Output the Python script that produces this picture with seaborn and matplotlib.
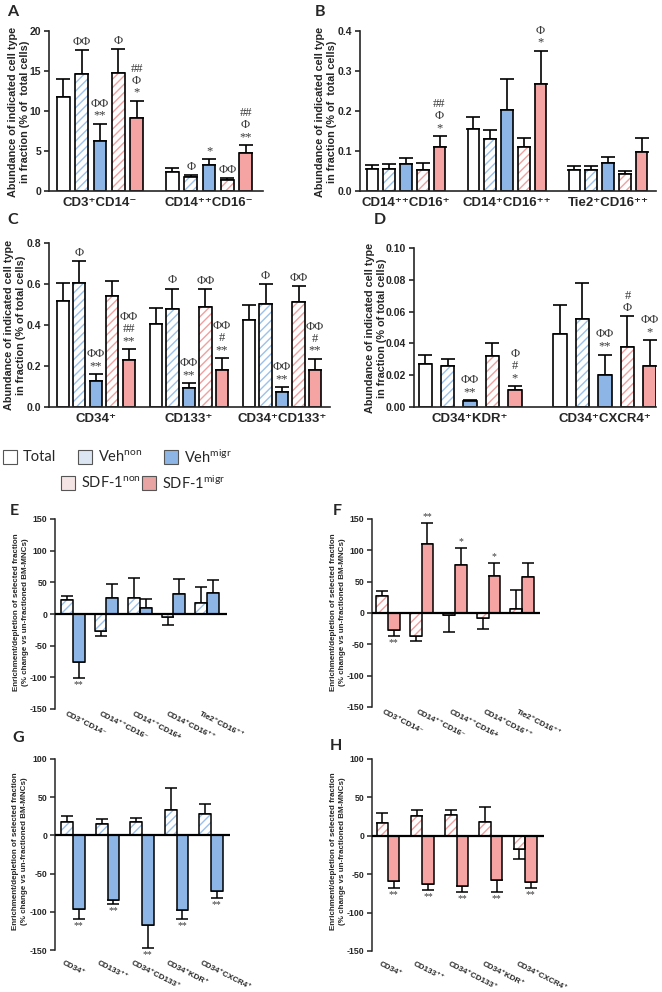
import numpy as np
import pandas as pd
import matplotlib
matplotlib.use("Agg")
import matplotlib.pyplot as plt
import seaborn as sns
from matplotlib.patches import Rectangle
from matplotlib.transforms import ScaledTranslation

# ---------------- data ----------------
groups5 = ["Total", "Veh_non", "Veh_migr", "SDF_non", "SDF_migr"]

# Panel A
a_cats = ["CD3⁺CD14⁻", "CD14⁺⁺CD16⁻"]
a_vals = {"Total": [11.8, 2.4], "Veh_non": [14.6, 1.7], "Veh_migr": [6.3, 3.2],
          "SDF_non": [14.8, 1.4], "SDF_migr": [9.1, 4.7]}
a_errs = {"Total": [2.2, 0.5], "Veh_non": [3.0, 0.3], "Veh_migr": [2.1, 0.8],
          "SDF_non": [3.0, 0.2], "SDF_migr": [2.2, 1.0]}
a_ann = {"Veh_non": ["ΦΦ", "Φ"], "Veh_migr": ["ΦΦ\n**", "*"],
         "SDF_non": ["Φ", "ΦΦ"], "SDF_migr": ["##\nΦ\n*", "##\nΦ\n**"]}

# Panel B
b_cats = ["CD14⁺⁺CD16⁺", "CD14⁺CD16⁺⁺", "Tie2⁺CD16⁺⁺"]
b_vals = {"Total": [0.055, 0.154, 0.052], "Veh_non": [0.055, 0.130, 0.052],
          "Veh_migr": [0.067, 0.203, 0.070], "SDF_non": [0.053, 0.111, 0.042],
          "SDF_migr": [0.110, 0.267, 0.098]}
b_errs = {"Total": [0.011, 0.031, 0.010], "Veh_non": [0.013, 0.022, 0.011],
          "Veh_migr": [0.016, 0.076, 0.016], "SDF_non": [0.016, 0.022, 0.008],
          "SDF_migr": [0.027, 0.084, 0.035]}
b_ann = {"SDF_migr": ["##\nΦ\n*", "Φ\n*", ""]}

# Panel C
c_cats = ["CD34⁺", "CD133⁺", "CD34⁺CD133⁺"]
c_vals = {"Total": [0.515, 0.405, 0.425], "Veh_non": [0.607, 0.478, 0.502],
          "Veh_migr": [0.125, 0.093, 0.075], "SDF_non": [0.540, 0.488, 0.510],
          "SDF_migr": [0.227, 0.180, 0.182]}
c_errs = {"Total": [0.088, 0.077, 0.073], "Veh_non": [0.106, 0.100, 0.096],
          "Veh_migr": [0.035, 0.023, 0.022], "SDF_non": [0.073, 0.088, 0.078],
          "SDF_migr": [0.056, 0.058, 0.053]}
c_ann = {"Veh_non": ["Φ", "Φ", "Φ"], "Veh_migr": ["ΦΦ\n**", "ΦΦ\n**", "ΦΦ\n**"],
         "SDF_non": ["", "ΦΦ", "ΦΦ"], "SDF_migr": ["ΦΦ\n##\n**", "ΦΦ\n#\n**", "ΦΦ\n#\n**"]}

# Panel D
d_cats = ["CD34⁺KDR⁺", "CD34⁺CXCR4⁺"]
d_vals = {"Total": [0.027, 0.046], "Veh_non": [0.026, 0.0555], "Veh_migr": [0.0035, 0.020],
          "SDF_non": [0.032, 0.038], "SDF_migr": [0.0105, 0.0255]}
d_errs = {"Total": [0.006, 0.018], "Veh_non": [0.0045, 0.0225], "Veh_migr": [0.0006, 0.013],
          "SDF_non": [0.008, 0.019], "SDF_migr": [0.0025, 0.0165]}
d_ann = {"Veh_migr": ["ΦΦ\n**", "ΦΦ\n**"], "SDF_non": ["", "#\nΦ"], "SDF_migr": ["Φ\n#\n*", "ΦΦ\n*"]}

# Panels E/F
ef_cats = ["CD3⁺CD14⁻", "CD14⁺⁺CD16⁻", "CD14⁺⁺CD16+", "CD14⁺CD16⁺⁺", "Tie2⁺CD16⁺⁺"]
e_vals = {"non": [22, -27, 25, -5, 18], "migr": [-75, 25, 9, 31, 33]}
e_errs = {"non": [6, 8, 32, 12, 24], "migr": [26, 23, 15, 24, 20]}
e_ann = {"migr": ["**", "", "", "", ""]}
f_vals = {"non": [27, -36, -3, -8, 7], "migr": [-27, 110, 76, 59, 57]}
f_errs = {"non": [8, 9, 28, 18, 30], "migr": [10, 34, 28, 20, 23]}
f_ann = {"migr": ["**", "**", "*", "*", ""]}

# Panels G/H
gh_cats = ["CD34⁺", "CD133⁺⁺", "CD34⁺CD133⁺", "CD34⁺KDR⁺", "CD34⁺CXCR4⁺"]
g_vals = {"non": [18, 15, 17, 33, 28], "migr": [-96, -85, -117, -97, -73]}
g_errs = {"non": [7, 7, 6, 29, 13], "migr": [14, 5, 30, 12, 9]}
g_ann = {"migr": ["**", "**", "**", "**", "**"]}
h_vals = {"non": [17, 26, 27, 18, -17], "migr": [-59, -63, -65, -57, -60]}
h_errs = {"non": [13, 8, 7, 20, 13], "migr": [9, 8, 8, 16, 8]}
h_ann = {"migr": ["**", "**", "**", "**", "**"]}

# ---------------- style ----------------
sns.set_theme(style="ticks")
plt.rcParams['font.family'] = ['Liberation Sans', 'DejaVu Sans']
plt.rcParams['hatch.linewidth'] = 1.0
plt.rcParams['mathtext.fontset'] = 'custom'
plt.rcParams['mathtext.rm'] = 'Lato'
plt.rcParams['mathtext.it'] = 'Lato:italic'
plt.rcParams['mathtext.bf'] = 'Lato:bold'

BLUE = "#8DB6E6"
RED = "#F5A3A3"
BLUE_H = "#9CC1EA"
RED_H = "#F0A0A0"
ANN_C = "#3a3a3a"

W, H = 662, 992
fig = plt.figure(figsize=(W / 100, H / 100), dpi=100)


def add_ax(l, t, r, b):
    return fig.add_axes([l / W, 1 - b / H, (r - l) / W, (b - t) / H])


def draw(ax, cats, hues, vals, errs, palette, hatched, width, gap, xlim, ylim,
         yticks, yfmt, anns, lw, capsize, ann_fs, neg_axis=False):
    rows = []
    for h in hues:
        for c, v in zip(cats, vals[h]):
            rows.append({"cat": c, "grp": h, "val": v})
    df = pd.DataFrame(rows)
    sns.barplot(data=df, x="cat", y="val", hue="grp", order=cats, hue_order=hues,
                palette=palette, width=width, gap=gap, errorbar=None, saturation=1,
                edgecolor="black", linewidth=lw, legend=False, ax=ax, zorder=2)
    conts = list(ax.containers)
    for h, cont in zip(hues, conts):
        for i, bar in enumerate(cont):
            v = vals[h][i]
            e = errs[h][i]
            x = bar.get_x() + bar.get_width() / 2
            if h in hatched:
                bar.set_facecolor("white")
                bar.set_edgecolor(hatched[h])
                bar.set_hatch("////")
                bar.set_linewidth(0)
                ax.add_patch(Rectangle((bar.get_x(), bar.get_y()), bar.get_width(),
                                       bar.get_height(), fill=False, edgecolor="black",
                                       linewidth=lw, zorder=2.5))
            if v >= 0:
                yerr = [[0], [e]]
                end = v + e
            else:
                yerr = [[e], [0]]
                end = v - e
            ax.errorbar([x], [v], yerr=yerr, fmt="none", ecolor="black",
                        elinewidth=lw, capsize=capsize, capthick=lw, zorder=1.5)
            txt = anns.get(h, [""] * len(cats))[i]
            if txt:
                if end >= 0:
                    ax.annotate(txt, xy=(x, end), xytext=(0, 1.5), textcoords="offset points",
                                ha="center", va="bottom", fontsize=ann_fs, color=ANN_C,
                                family=["Liberation Serif", "DejaVu Serif"], linespacing=1.0)
                else:
                    ax.annotate(txt, xy=(x, end), xytext=(0, -1.5), textcoords="offset points",
                                ha="center", va="top", fontsize=ann_fs, color=ANN_C,
                                family=["Liberation Serif", "DejaVu Serif"], linespacing=1.0)
    ax.set_xlim(*xlim)
    ax.set_ylim(*ylim)
    ax.set_yticks(yticks)
    ax.set_yticklabels([yfmt.format(t) for t in yticks])
    ax.set_xlabel("")
    ax.set_ylabel("")
    for s in ["top", "right"]:
        ax.spines[s].set_visible(False)
    ax.spines["left"].set_linewidth(lw)
    ax.spines["bottom"].set_linewidth(lw)
    ax.tick_params(axis="y", direction="out", length=3.5, width=lw, pad=2)
    ax.tick_params(axis="x", length=0)
    if neg_axis:
        ax.spines["bottom"].set_visible(False)
        ax.axhline(0, color="black", linewidth=1.6, zorder=3)


pal5 = {"Total": "white", "Veh_non": "white", "Veh_migr": BLUE, "SDF_non": "white", "SDF_migr": RED}
hat5 = {"Veh_non": BLUE_H, "SDF_non": RED_H}

# ---- A ----
axA = add_ax(49, 31, 263, 191)
draw(axA, a_cats, groups5, a_vals, a_errs, pal5, hat5, 0.84, 0.32, (-0.468, 1.495), (0, 20),
     [0, 5, 10, 15, 20], "{:g}", a_ann, 1.2, 5, 9)
# ---- B ----
axB = add_ax(360, 31, 656, 191)
draw(axB, b_cats, groups5, b_vals, b_errs, pal5, hat5, 0.83, 0.31, (-0.455, 2.475), (0, 0.4),
     [0, 0.1, 0.2, 0.3, 0.4], "{:.1f}", b_ann, 1.2, 5, 9)
# ---- C ----
axC = add_ax(49, 243, 330, 407)
draw(axC, c_cats, groups5, c_vals, c_errs, pal5, hat5, 0.887, 0.27, (-0.505, 2.516), (0, 0.8),
     [0, 0.2, 0.4, 0.6, 0.8], "{:.1f}", c_ann, 1.2, 5, 9)
# ---- D ----
axD = add_ax(414, 248, 656, 407)
draw(axD, d_cats, groups5, d_vals, d_errs, pal5, hat5, 0.833, 0.42, (-0.415, 1.378), (0, 0.10),
     [0, 0.02, 0.04, 0.06, 0.08, 0.10], "{:.2f}", d_ann, 1.2, 5, 9)

for ax in [axA, axB, axC, axD]:
    for lbl in ax.get_yticklabels():
        lbl.set_fontsize(7.5)
        lbl.set_fontweight("bold")
    for lbl in ax.get_xticklabels():
        lbl.set_fontsize(9.5)
        lbl.set_fontweight("bold")
    ax.tick_params(axis="x", pad=4)

pal2b = {"non": "white", "migr": BLUE}
pal2r = {"non": "white", "migr": RED}
axE = add_ax(55, 519, 227, 709)
draw(axE, ef_cats, ["non", "migr"], e_vals, e_errs, pal2b, {"non": BLUE_H}, 0.69, 0,
     (-0.537, 4.597), (-150, 150), [-150, -100, -50, 0, 50, 100, 150], "{:g}", e_ann, 1.1, 4, 7,
     neg_axis=True)
axF = add_ax(372, 519, 540, 707)
draw(axF, ef_cats, ["non", "migr"], f_vals, f_errs, pal2r, {"non": RED_H}, 0.69, 0,
     (-0.478, 4.537), (-150, 150), [-150, -100, -50, 0, 50, 100, 150], "{:g}", f_ann, 1.1, 4, 7,
     neg_axis=True)
axG = add_ax(55, 759, 230, 950)
draw(axG, gh_cats, ["non", "migr"], g_vals, g_errs, pal2b, {"non": BLUE_H}, 0.67, 0,
     (-0.522, 4.55), (-150, 100), [-150, -100, -50, 0, 50, 100], "{:g}", g_ann, 1.1, 4, 7,
     neg_axis=True)
axH = add_ax(372, 759, 544, 951)
draw(axH, gh_cats, ["non", "migr"], h_vals, h_errs, pal2r, {"non": RED_H}, 0.67, 0,
     (-0.467, 4.55), (-150, 100), [-150, -100, -50, 0, 50, 100], "{:g}", h_ann, 1.1, 4, 7,
     neg_axis=True)

for ax, pad, dx in [(axE, 1, -6), (axF, 1, -4), (axG, 7, -9), (axH, 7, -7)]:
    for lbl in ax.get_yticklabels():
        lbl.set_fontsize(6.3)
        lbl.set_fontweight("bold")
    ax.tick_params(axis="x", pad=pad)
    off = ScaledTranslation(dx / 100, 0, fig.dpi_scale_trans)
    for lbl in ax.get_xticklabels():
        lbl.set_fontsize(5.8)
        lbl.set_fontweight("bold")
        lbl.set_rotation(-27)
        lbl.set_ha("left")
        lbl.set_va("top")
        lbl.set_rotation_mode("anchor")
        lbl.set_transform(lbl.get_transform() + off)

# ---------------- y labels ----------------
def ylab(x, y, txt, fs):
    fig.text(x / W, 1 - y / H, txt, rotation=90, ha="center", va="center",
             fontsize=fs, fontweight="bold", linespacing=1.3)

ylab(19, 112, "Abundance of indicated cell type\nin fraction (% of  total cells)", 7.8)
ylab(326, 112, "Abundance of indicated cell type\nin fraction (% of  total cells)", 7.8)
ylab(15, 325, "Abundance of indicated cell type\nin fraction (% of total cells)", 7.8)
ylab(376, 328, "Abundance of indicated cell type\nin fraction (% of total cells)", 7.8)
ef_lab = "Enrichment/depletion of selected fraction\n(% change vs un-fractioned BM-MNCs)"
ylab(21, 612, ef_lab, 5.8)
ylab(338, 612, ef_lab, 5.8)
ylab(20, 851, ef_lab, 5.8)
ylab(338, 851, ef_lab, 5.8)

# ---------------- panel letters ----------------
for letter, x, y in [("A", 7, 5), ("B", 315, 5), ("C", 7, 213), ("D", 374, 213),
                     ("E", 10, 504), ("F", 333, 504), ("G", 12, 731), ("H", 330, 739)]:
    fig.text(x / W, 1 - y / H, letter, ha="left", va="top", fontsize=11.5,
             fontweight="bold", family="Lato")

# ---------------- legend ----------------
leg_items = [
    (3, 457, "white", "Total"),
    (78, 457, "#DCE6F2", r"Veh$^{\mathrm{non}}$"),
    (164, 457, BLUE, r"Veh$^{\mathrm{migr}}$"),
    (61, 483, "#F5E4E4", r"SDF-1$^{\mathrm{non}}$"),
    (142, 483, "#E8A3A3", r"SDF-1$^{\mathrm{migr}}$"),
]
for x, y, col, txt in leg_items:
    fig.patches.append(Rectangle((x / W, 1 - (y + 7) / H), 14 / W, 14 / H,
                                 transform=fig.transFigure, facecolor=col,
                                 edgecolor="#555555", linewidth=0.8))
    fig.text((x + 20) / W, 1 - y / H, txt, ha="left", va="center", fontsize=10.5,
             family="Lato")

fig.savefig("out.png", dpi=100)
